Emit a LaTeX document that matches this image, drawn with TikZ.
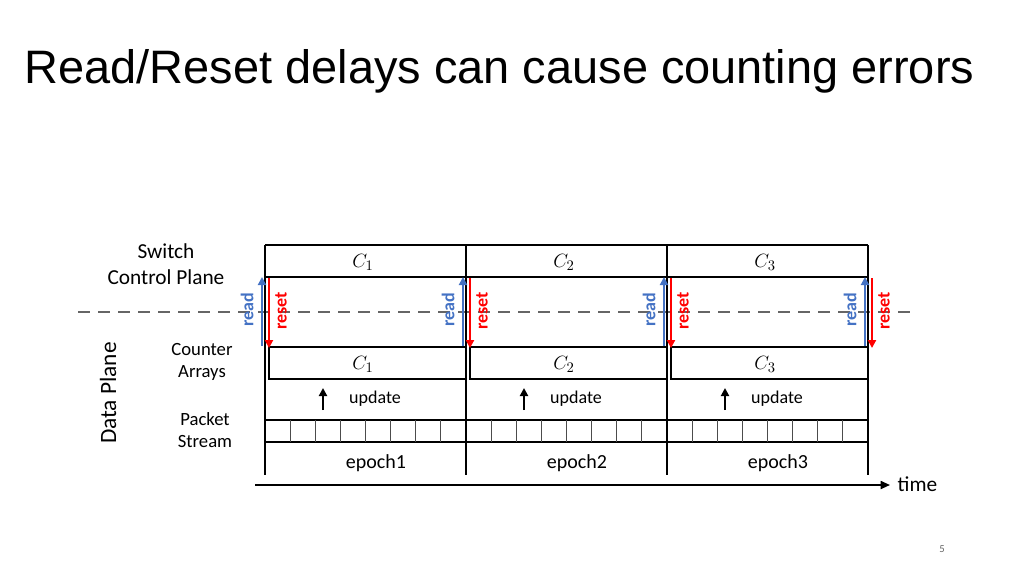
\documentclass[tikz,border=0pt]{standalone}
\usepackage{fontspec}
\setmainfont{Carlito}
\newfontfamily\titlefont{Liberation Sans}
\usetikzlibrary{arrows.meta}
\begin{document}
\begin{tikzpicture}[x=0.75pt,y=-0.75pt,
  thin line/.style={line width=1.1pt},
  thick line/.style={line width=2.2pt},
  lbl/.style={font=\fontsize{13.5}{15.5}\selectfont, align=center},
  readarr/.style={draw={rgb,255:red,68;green,114;blue,196}, line width=2.2pt, -{Triangle[length=6pt,width=6pt]}},
  resetarr/.style={draw=red, line width=2.2pt, -{Triangle[length=6pt,width=6pt]}},
  readlbl/.style={text={rgb,255:red,68;green,114;blue,196}, rotate=90, font=\bfseries\fontsize{13.5}{15}\selectfont},
  resetlbl/.style={text=red, rotate=90, font=\bfseries\fontsize{13.5}{15}\selectfont},
  cell/.style={draw=black!70, line width=0.7pt}]
\useasboundingbox (0,0) rectangle (1024,576);
\node[anchor=west, font=\titlefont\fontsize{35.2}{40}\selectfont] (title) at (20,71) {Read/Reset delays can cause counting errors};
% dashed
\draw[line width=1.3pt, draw=black!60, dash pattern=on 9pt off 6pt] (78,312) -- (915,312);
% control plane rows
\draw[thin line] (265,245) -- (868,245);
\draw[thin line] (265,277) -- (868,277);
% packet stream
\draw[thin line] (265,420) -- (868,420);
\draw[thin line] (265,442) -- (868,442);
\foreach \i in {0,...,23} \draw[cell] ({265+\i*25.125},420) -- ({265+\i*25.125},442);
% counter arrays
\foreach \x in {265,466,667} {
  \draw[thin line] ({\x+4},347) rectangle ({\x+201},379);
}
% vertical thick lines
\foreach \x in {265,466,667,868} \draw[thick line] (\x,245) -- (\x,475);
% time axis
\draw[line width=1.3pt, -{Triangle[length=7pt,width=6pt]}] (255,485) -- (890,485);
\node[font=\fontsize{16}{18}\selectfont, anchor=west] (time) at (893,484) {time};
% labels
\node[lbl, font=\fontsize{16}{19}\selectfont] (scp) at (166,264) {Switch\\[1pt]Control Plane};
\node[lbl, font=\fontsize{14}{16}\selectfont] (ca) at (202,362) {Counter\\[1pt]Arrays};
\node[lbl, font=\fontsize{14}{16}\selectfont] (ps) at (205,430) {Packet\\[1pt]Stream};
\node[rotate=90, font=\fontsize{17.5}{20}\selectfont] (dp) at (108,393) {Data Plane};
\foreach \x/\n in {265/1,466/2,667/3} {
  \node[font=\fontsize{15}{17}\selectfont] (ct\n) at ({\x+98},262) {$C_\n$};
  \node[font=\fontsize{15}{17}\selectfont] (cb\n) at ({\x+98},364) {$C_\n$};
  \node[lbl] (up\n) at ({\x+110},399) {update};
  \draw[line width=2pt, -{Triangle[length=6pt,width=6pt]}] ({\x+58},410) -- ({\x+58},388);
  \node[lbl, font=\fontsize{15}{17}\selectfont] (ep\n) at ({\x+111},463) {epoch\n};
}
\foreach \x in {265,466,667,868} {
  \draw[readarr] ({\x-3},346) -- ({\x-3},277);
  \draw[resetarr] ({\x+4},278) -- ({\x+4},348);
  \node[readlbl] at ({\x-18},310) {read};
  \node[resetlbl] at ({\x+16},311) {reset};
}
\node[font=\fontsize{8}{10}\selectfont, text=black!60] (pg) at (942,549) {5};
\end{tikzpicture}
\end{document}
